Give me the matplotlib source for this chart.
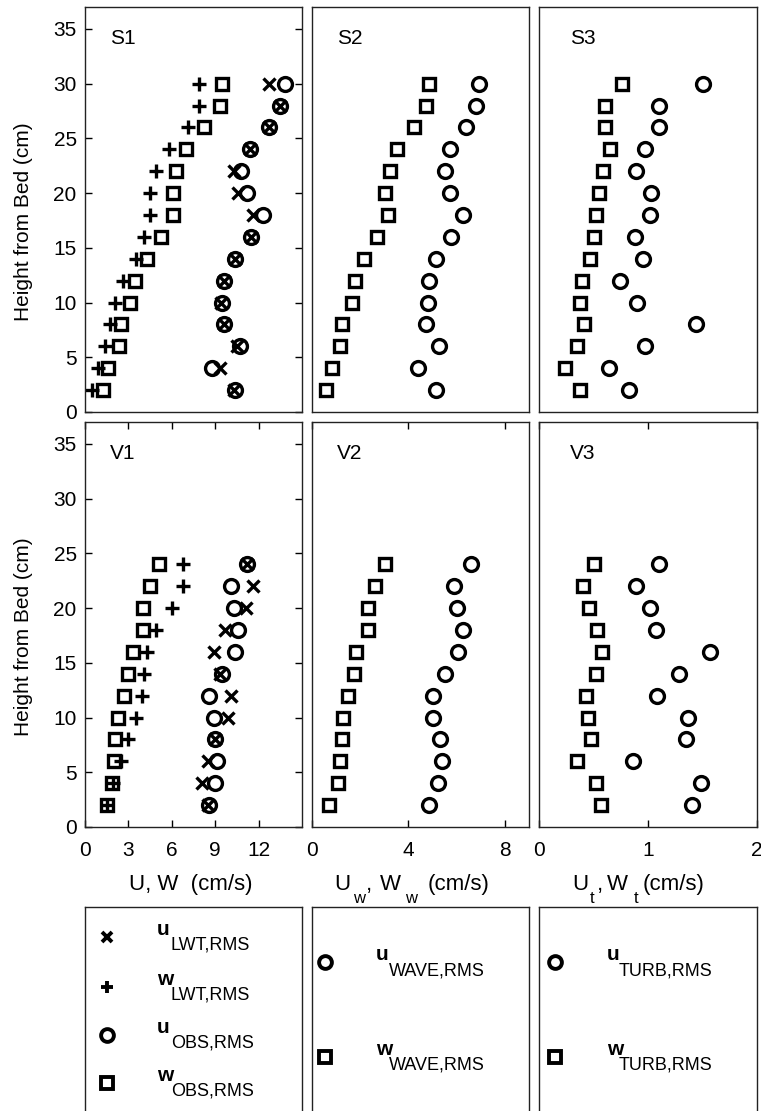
import numpy as np
import matplotlib
matplotlib.use("Agg")
import matplotlib.pyplot as plt

plt.rcParams['font.family'] = ['Liberation Sans', 'DejaVu Sans']

# ---------------- data ----------------
z_S = [30, 28, 26, 24, 22, 20, 18, 16, 14, 12, 10, 8, 6, 4, 2]
z_V = [24, 22, 20, 18, 16, 14, 12, 10, 8, 6, 4, 2]

# S1 (U, W total)
S1_u_lwt = [12.7, 13.5, 12.7, 11.4, 10.3, 10.6, 11.6, 11.5, 10.4, 9.6, 9.4, 9.6, 10.5, 9.3, 10.3]
S1_w_lwt = [7.9, 7.9, 7.1, 5.8, 4.9, 4.5, 4.5, 4.1, 3.5, 2.65, 2.07, 1.73, 1.38, 0.92, 0.46]
S1_u_obs = [13.8, 13.5, 12.7, 11.4, 10.8, 11.2, 12.3, 11.5, 10.4, 9.6, 9.5, 9.6, 10.7, 8.8, 10.4]
S1_w_obs = [9.5, 9.3, 8.2, 7.0, 6.3, 6.1, 6.1, 5.25, 4.3, 3.45, 3.1, 2.47, 2.37, 1.6, 1.27]
# S2 (wave)
S2_u_wave = [6.93, 6.8, 6.38, 5.73, 5.53, 5.71, 6.25, 5.75, 5.15, 4.85, 4.83, 4.72, 5.28, 4.4, 5.13]
S2_w_wave = [4.85, 4.73, 4.23, 3.51, 3.24, 3.04, 3.14, 2.68, 2.16, 1.77, 1.67, 1.23, 1.16, 0.84, 0.57]
# S3 (turbulence)
S3_u_turb = [1.50, 1.10, 1.10, 0.97, 0.89, 1.03, 1.02, 0.88, 0.95, 0.74, 0.90, 1.44, 0.97, 0.64, 0.83]
S3_w_turb = [0.76, 0.61, 0.61, 0.65, 0.59, 0.55, 0.52, 0.50, 0.47, 0.39, 0.38, 0.41, 0.35, 0.24, 0.38]

# V1
V1_u_lwt = [11.2, 11.6, 11.1, 9.7, 8.9, 9.3, 10.1, 9.9, 9.0, 8.5, 8.1, 8.5]
V1_w_lwt = [6.75, 6.75, 6.0, 4.9, 4.3, 4.1, 3.95, 3.5, 3.0, 2.5, 1.96, 1.5]
V1_u_obs = [11.2, 10.1, 10.3, 10.6, 10.4, 9.45, 8.6, 8.9, 9.0, 9.15, 9.0, 8.6]
V1_w_obs = [5.1, 4.5, 4.0, 4.0, 3.3, 3.0, 2.7, 2.26, 2.07, 2.03, 1.9, 1.5]
# V2
V2_u_wave = [6.58, 5.91, 6.0, 6.25, 6.04, 5.52, 5.03, 5.03, 5.31, 5.38, 5.21, 4.87]
V2_w_wave = [3.03, 2.61, 2.31, 2.31, 1.83, 1.76, 1.51, 1.27, 1.23, 1.16, 1.06, 0.72]
# V3
V3_u_turb = [1.10, 0.89, 1.02, 1.07, 1.57, 1.28, 1.08, 1.37, 1.35, 0.86, 1.49, 1.40]
V3_w_turb = [0.50, 0.40, 0.46, 0.53, 0.58, 0.52, 0.43, 0.45, 0.48, 0.35, 0.52, 0.57]

panel_labels = [['S1', 'S2', 'S3'], ['V1', 'V2', 'V3']]
xlims = [15, 9, 2]
xticks = [[0, 3, 6, 9, 12], [0, 4, 8], [0, 1, 2]]
yticks = [0, 5, 10, 15, 20, 25, 30, 35]

# ---------------- layout ----------------
W, H = 761, 1111
fig = plt.figure(figsize=(W / 100, H / 100), dpi=100)

def px_axes(x0, y0, x1, y1):
    return fig.add_axes([x0 / W, 1 - y1 / H, (x1 - x0) / W, (y1 - y0) / H])

def ftext(x, y, s, **kw):
    kw.setdefault('va', 'baseline')
    kw.setdefault('ha', 'left')
    return fig.text(x / W, 1 - y / H, s, **kw)

cols = [(85, 302), (312, 529), (539, 757)]
rows = [(7, 412), (422, 827)]

mk = dict(linestyle='none', markerfacecolor='none', markeredgecolor='black', color='black')
ms_o, ms_s, ms_x, ms_p, mew = 10.0, 9.2, 8.5, 10.0, 2.4

series = {
    (0, 0): [(S1_u_lwt, 'x', ms_x), (S1_w_lwt, '+', ms_p), (S1_u_obs, 'o', ms_o), (S1_w_obs, 's', ms_s)],
    (0, 1): [(S2_u_wave, 'o', ms_o), (S2_w_wave, 's', ms_s)],
    (0, 2): [(S3_u_turb, 'o', ms_o), (S3_w_turb, 's', ms_s)],
    (1, 0): [(V1_u_lwt, 'x', ms_x), (V1_w_lwt, '+', ms_p), (V1_u_obs, 'o', ms_o), (V1_w_obs, 's', ms_s)],
    (1, 1): [(V2_u_wave, 'o', ms_o), (V2_w_wave, 's', ms_s)],
    (1, 2): [(V3_u_turb, 'o', ms_o), (V3_w_turb, 's', ms_s)],
}

tick_fs = 15
for r, (y0, y1) in enumerate(rows):
    zz = z_S if r == 0 else z_V
    for c, (x0, x1) in enumerate(cols):
        ax = px_axes(x0, y0, x1, y1)
        for vals, m, ms in series[(r, c)]:
            ax.plot(vals, zz, marker=m, markersize=ms, markeredgewidth=mew, **mk)
        ax.set_xlim(0, xlims[c])
        ax.set_ylim(0, 37)
        for sp in ax.spines.values():
            sp.set_linewidth(1.0)
            sp.set_color('#222222')
        if c == 0:
            ax.set_yticks(yticks)
            ax.tick_params(axis='y', which='both', direction='in', left=True, right=True,
                           length=5, width=1, labelsize=tick_fs, pad=6)
        else:
            ax.set_yticks([])
        if r == 1:
            ax.set_xticks(xticks[c])
            ax.tick_params(axis='x', which='both', direction='in', top=True, bottom=True,
                           length=5, width=1, labelsize=tick_fs, pad=10)
        else:
            ax.set_xticks([])
        ax.text(25 / (x1 - x0) if c < 2 else 31 / (x1 - x0), 1 - 37 / (y1 - y0),
                panel_labels[r][c], transform=ax.transAxes, fontsize=15,
                ha='left', va='baseline')

# y labels
for (y0, y1) in rows:
    ftext(24, (y0 + y1) / 2 + 12, 'Height from Bed (cm)', rotation=90,
          ha='center', va='center', fontsize=15)

# x labels
xl_fs, sub_fs = 16, 12
ftext(191, 890, 'U, W  (cm/s)', ha='center', fontsize=xl_fs)
ftext(334, 890, 'U', fontsize=xl_fs)
ftext(353, 903, 'w', fontsize=sub_fs)
ftext(366, 890, ',', fontsize=xl_fs)
ftext(380, 890, 'W', fontsize=xl_fs)
ftext(405, 903, 'w', fontsize=sub_fs)
ftext(428, 890, '(cm/s)', fontsize=xl_fs)

ftext(572, 890, 'U', fontsize=xl_fs)
ftext(590, 903, 't', fontsize=sub_fs)
ftext(597, 890, ',', fontsize=xl_fs)
ftext(607, 890, 'W', fontsize=xl_fs)
ftext(634, 903, 't', fontsize=sub_fs)
ftext(643, 890, '(cm/s)', fontsize=xl_fs)

# legend boxes
leg_box = [
    {'mx': 107, 'tx': 157, 'sx': 171,
     'items': [('x', 'u', 'LWT,RMS', 937, ms_x), ('+', 'w', 'LWT,RMS', 987, ms_p),
               ('o', 'u', 'OBS,RMS', 1035, ms_o), ('s', 'w', 'OBS,RMS', 1083, ms_s)]},
    {'mx': 325, 'tx': 376, 'sx': 389,
     'items': [('o', 'u', 'WAVE,RMS', 962, ms_o), ('s', 'w', 'WAVE,RMS', 1057, ms_s)]},
    {'mx': 555, 'tx': 607, 'sx': 619,
     'items': [('o', 'u', 'TURB,RMS', 962, ms_o), ('s', 'w', 'TURB,RMS', 1057, ms_s)]},
]
for (x0, x1), lb in zip(cols, leg_box):
    lax = px_axes(x0, 907, x1, 1120)
    lax.set_xticks([]); lax.set_yticks([])
    lax.set_xlim(x0, x1); lax.set_ylim(1120, 907)
    for sp in lax.spines.values():
        sp.set_linewidth(1.0); sp.set_color('#222222')
    for m, main, sub, yy, ms in lb['items']:
        lax.plot([lb['mx']], [yy], marker=m, markersize=ms * 0.92, markeredgewidth=2.8, **mk)
        ftext(lb['tx'], yy - 2, main, fontsize=15, fontweight='bold')
        ftext(lb['sx'], yy + 13, sub, fontsize=13)

fig.savefig('out.png', dpi=100)
